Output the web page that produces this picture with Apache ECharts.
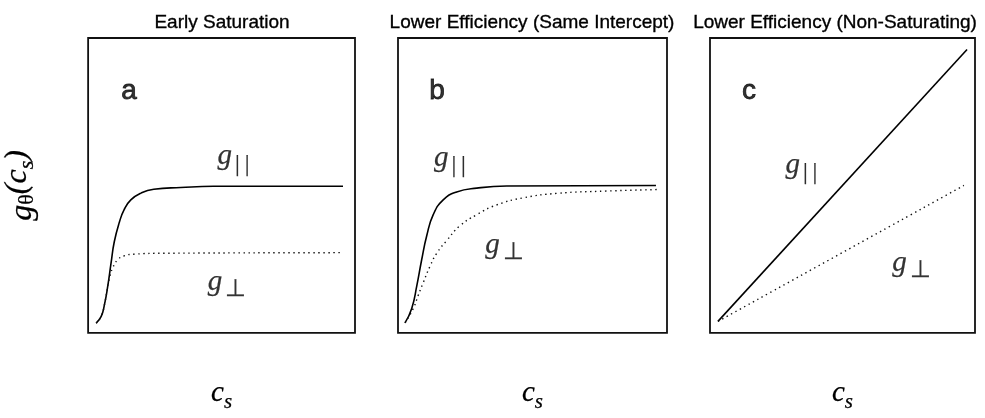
<!DOCTYPE html>
<html>
<head>
<meta charset="utf-8">
<style>html,body{margin:0;padding:0;background:#fff;}#c{width:985px;height:418px;}</style>
<script src="https://cdn.jsdelivr.net/npm/echarts@6/dist/echarts.min.js"></script>
</head>
<body>
<div id="c"></div>
<script>
// Panel titles
const panelTitles = ['Early Saturation', 'Lower Efficiency (Same Intercept)', 'Lower Efficiency (Non-Saturating)'];
const panelLetters = ['a', 'b', 'c'];

// Panel a (x, y in % of box)
const aParX  = [3.0, 4.9, 6.1, 7.4, 8.6, 9.8, 11.7, 13.5, 16.0, 19.8, 24.6, 34.7, 47.0, 95.5];
const aParY  = [3.3, 5.6, 9.5, 16.1, 23.7, 30.9, 37.5, 41.8, 45.1, 47.4, 48.7, 49.3, 49.7, 49.7];
const aPerpX = [3.0, 4.9, 6.1, 7.9, 9.2, 11.1, 13.5, 17.3, 28.4, 95.0];
const aPerpY = [3.3, 5.6, 9.5, 18.2, 22.0, 24.8, 26.1, 26.7, 27.0, 27.2];

// Panel b
const bParX  = [2.6, 5.1, 7.0, 8.8, 10.7, 13.1, 16.8, 21.8, 29.3, 40.4, 95.9];
const bParY  = [3.4, 8.3, 16.0, 24.8, 33.0, 40.1, 45.1, 47.8, 49.1, 49.8, 50.0];
const bPerpX = [2.6, 5.7, 7.5, 9.4, 11.9, 14.4, 18.1, 23.0, 29.3, 36.7, 46.6, 59.0, 77.6, 96.2];
const bPerpY = [3.4, 8.3, 12.7, 17.1, 22.6, 27.0, 31.3, 36.3, 40.1, 43.4, 45.8, 47.3, 48.1, 48.6];

// Panel c
const cParX  = [3.0, 97.0];
const cParY  = [3.9, 96.1];
const cPerpX = [3.0, 95.8];
const cPerpY = [3.9, 50.0];

// Annotation anchors (data coords): [x, y] for letter, g-parallel, g-perp
const letterAt = [[15.3, 82.0], [14.5, 82.0], [14.7, 82.0]];
const gParAt   = [[54.5, 58.2], [19.3, 57.6], [34.5, 55.3]];
const gPerpAt  = [[52.0, 15.5], [39.6, 28.1], [76.0, 22.0]];

const zip = (xs, ys) => xs.map((x, i) => [x, ys[i]]);

const grids = [
  {left: 87,  top: 38, width: 268, height: 304},
  {left: 398, top: 38, width: 269, height: 304},
  {left: 710, top: 38, width: 265, height: 304}
];

const serif = 'Liberation Serif';
const sans = 'Liberation Sans';
const ink = '#000';
const thick = {textBorderColor: ink, textBorderWidth: 0.25};

const csRich = {
  c: Object.assign({fontFamily: serif, fontStyle: 'italic', fontSize: 29, color: ink, verticalAlign: 'bottom', lineHeight: 30, padding: [0, 0, 5, 0]}, thick),
  s: Object.assign({fontFamily: serif, fontStyle: 'italic', fontSize: 21, color: ink, verticalAlign: 'bottom', lineHeight: 22}, thick)
};

const gRich = {
  g: Object.assign({fontFamily: serif, fontStyle: 'italic', fontSize: 29, color: ink, verticalAlign: 'bottom', lineHeight: 30, padding: [0, 0, 5, 0]}, thick),
  sub: Object.assign({fontFamily: serif, fontSize: 24, color: ink, verticalAlign: 'bottom', lineHeight: 23, padding: [0, 0, 0, 3]}, thick)
};

const xAxes = grids.map((g, i) => ({
  type: 'value', gridIndex: i, min: 0, max: 100,
  axisLine: {show: false}, axisTick: {show: false}, axisLabel: {show: false}, splitLine: {show: false},
  name: '{c|c}{s|s}', nameLocation: 'middle', nameGap: 50,
  nameTextStyle: {rich: csRich}
}));

const yAxes = grids.map((g, i) => {
  const ax = {
    type: 'value', gridIndex: i, min: 0, max: 100,
    axisLine: {show: false}, axisTick: {show: false}, axisLabel: {show: false}, splitLine: {show: false}
  };
  if (i === 0) {
    ax.name = '{g|g}{t|θ}{p|(c}{s|s}{p|)}';
    ax.nameLocation = 'middle';
    ax.nameRotate = 90;
    ax.nameGap = 50;
    ax.nameTextStyle = {rich: {
      g: Object.assign({fontFamily: serif, fontStyle: 'italic', fontSize: 32, color: ink, verticalAlign: 'bottom', lineHeight: 32}, thick),
      t: Object.assign({fontFamily: serif, fontSize: 22, color: ink, verticalAlign: 'bottom', lineHeight: 22}, thick),
      p: Object.assign({fontFamily: serif, fontStyle: 'italic', fontSize: 32, color: ink, verticalAlign: 'bottom', lineHeight: 32, padding: [0, 0, 5, 0]}, thick),
      s: Object.assign({fontFamily: serif, fontStyle: 'italic', fontSize: 22, color: ink, verticalAlign: 'bottom', lineHeight: 22}, thick)
    }};
  }
  return ax;
});

const solid = {color: '#000', width: 1.6};
const dotted = {color: '#111', width: 1.4, type: [1.4, 3.6]};

function lineSeries(i, xs, ys, style) {
  return {
    type: 'line', xAxisIndex: i, yAxisIndex: i, data: zip(xs, ys),
    showSymbol: false, symbol: 'none', smooth: 0.5,
    lineStyle: style, silent: true, animation: false, z: 3
  };
}

function labelSeries(i) {
  return {
    type: 'scatter', xAxisIndex: i, yAxisIndex: i, symbolSize: 0, silent: true, animation: false,
    data: [
      {value: letterAt[i], label: {show: true, position: 'inside', formatter: panelLetters[i],
        fontFamily: sans, fontSize: 28, color: ink, textBorderColor: ink, textBorderWidth: 0.8}},
      {value: gParAt[i], label: {show: true, position: 'inside', formatter: '{g|g}{sub||\u2009|}', rich: gRich}},
      {value: gPerpAt[i], label: {show: true, position: 'inside', formatter: '{g|g}{sub|⊥}', rich: gRich}}
    ]
  };
}

const series = [
  lineSeries(0, aParX, aParY, solid),
  lineSeries(0, aPerpX, aPerpY, dotted),
  lineSeries(1, bParX, bParY, solid),
  lineSeries(1, bPerpX, bPerpY, dotted),
  lineSeries(2, cParX, cParY, solid),
  lineSeries(2, cPerpX, cPerpY, dotted),
  labelSeries(0), labelSeries(1), labelSeries(2)
];

const titleX = [222, 532, 835];
const graphic = panelTitles.map((t, i) => ({
  type: 'text', x: titleX[i], y: 23,
  style: {text: t, fontFamily: sans, fontSize: 19, fill: ink, stroke: ink, lineWidth: 0.35,
    align: 'center', verticalAlign: 'middle'}
}));

const chart = echarts.init(document.getElementById('c'), null, {renderer: 'canvas'});
chart.setOption({
  backgroundColor: '#fff',
  animation: false,
  grid: grids.map(g => Object.assign({show: true, borderColor: '#111', borderWidth: 1.8, backgroundColor: 'transparent'}, g)),
  xAxis: xAxes,
  yAxis: yAxes,
  series: series,
  graphic: graphic
});
</script>
</body>
</html>
